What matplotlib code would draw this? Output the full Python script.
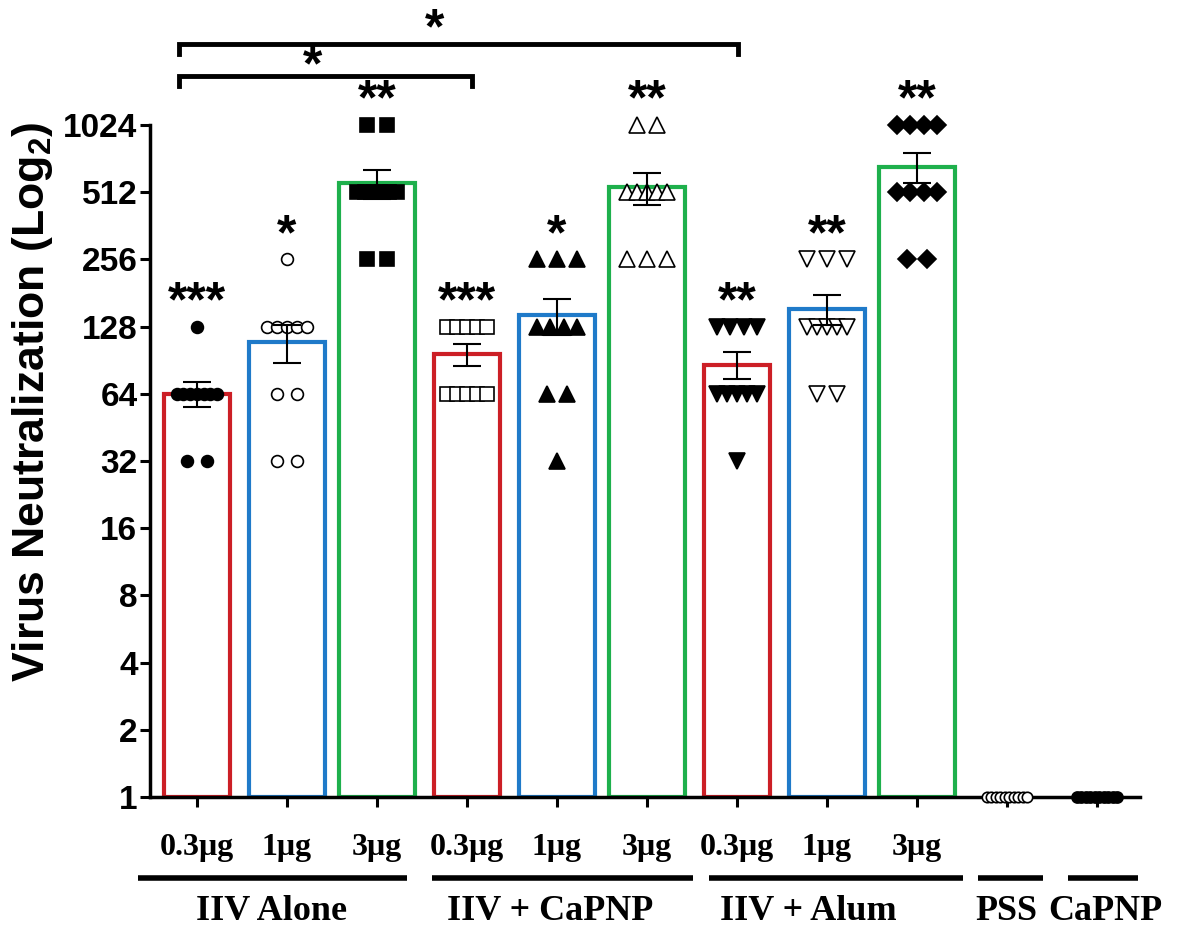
import numpy as np
import matplotlib.pyplot as plt
from matplotlib.transforms import blended_transform_factory

# HAI neutralization titers per mouse
iiv_03 = [128] + [64] * 7 + [32] * 2
iiv_1 = [256] + [128] * 5 + [64] * 2 + [32] * 2
iiv_3 = [1024] * 2 + [512] * 6 + [256] * 2
capnp_03 = [128] * 5 + [64] * 5
capnp_1 = [256] * 3 + [128] * 4 + [64] * 2 + [32]
capnp_3 = [1024] * 2 + [512] * 5 + [256] * 3
alum_03 = [128] * 4 + [64] * 5 + [32]
alum_1 = [256] * 3 + [128] * 5 + [64] * 2
alum_3 = [1024] * 4 + [512] * 4 + [256] * 2
pss = [1] * 10
capnp_only = [1] * 10

series = [iiv_03, iiv_1, iiv_3, capnp_03, capnp_1, capnp_3,
          alum_03, alum_1, alum_3, pss, capnp_only]
dose_labels = ["0.3μg", "1μg", "3μg"] * 3
group_labels = ["IIV Alone", "IIV + CaPNP", "IIV + Alum", "PSS", "CaPNP"]
stars = ["***", "*", "**", "***", "*", "**", "**", "**", "**"]
yticks = [1, 2, 4, 8, 16, 32, 64, 128, 256, 512, 1024]

# (marker, filled, size)
mstyle = [("o", True, 8.5), ("o", False, 8.5), ("s", True, 10),
          ("s", False, 10), ("^", True, 11), ("^", False, 11),
          ("v", True, 11), ("v", False, 11), ("D", True, 9.5),
          ("o", False, 7.5), ("o", True, 8)]
bar_colors = ["#CC1F26", "#1F7AC9", "#1EB04C"] * 3
bar_widths = [0.74, 0.84, 0.84] * 3

plt.rcParams["font.family"] = ["Liberation Sans", "DejaVu Sans"]
plt.rcParams["font.weight"] = "bold"
plt.rcParams["mathtext.fontset"] = "custom"
plt.rcParams["mathtext.rm"] = "Liberation Sans:bold"
plt.rcParams["mathtext.bf"] = "Liberation Sans:bold"


def spread(vals, step=0.22, span=0.45):
    vals = np.asarray(vals, float)
    xs = np.zeros_like(vals)
    for v in np.unique(vals):
        idx = np.where(vals == v)[0]
        k = len(idx)
        if k > 1:
            d = min(step, span / (k - 1))
            xs[idx] = (np.arange(k) - (k - 1) / 2) * d
    return xs


W, H = 1186, 931
fig = plt.figure(figsize=(W / 100, H / 100), dpi=100)
ax = fig.add_axes([150 / W, (H - 797) / H, (1140 - 150) / W, (797 - 5) / H])
ax.set_yscale("log", base=2)
ax.set_ylim(1, 2 ** ((797 - 5) / 67.2))
ax.set_xlim(-0.52, 10.48)

x = np.arange(len(series))
means = [np.mean(s) for s in series]
sems = [np.std(s, ddof=1) / np.sqrt(len(s)) for s in series]

for i in range(9):
    ax.bar(x[i], means[i] - 1, bottom=1, width=bar_widths[i], facecolor="white",
           edgecolor=bar_colors[i], linewidth=3, zorder=2)

for i, s in enumerate(series):
    m, filled, ms = mstyle[i]
    ax.plot(x[i] + spread(s), s, linestyle="none", marker=m, markersize=ms,
            markerfacecolor="black" if filled else "white",
            markeredgecolor="black", markeredgewidth=1.2, zorder=3, clip_on=False)

for i in range(9):
    ax.errorbar(x[i], means[i], yerr=sems[i], color="black", elinewidth=1.5,
                capsize=10, capthick=1.5, zorder=4)
    ax.annotate(stars[i], (x[i], max(series[i])), xytext=(0, 7.5),
                textcoords="offset points", ha="center", va="baseline",
                fontsize=36, fontweight="bold")


# significance brackets
def bracket(x0, x1, h, sx, sh, text):
    y = 2 ** h
    ax.plot([x0, x0, x1, x1], [2 ** (h - 0.15), y, y, 2 ** (h - 0.15)],
            color="black", linewidth=3.5, clip_on=False, solid_joinstyle="miter")
    ax.text(sx, 2 ** sh, text, ha="center", va="baseline",
            fontsize=36, fontweight="bold")


bracket(-0.2, 3.06, 10.73, 1.29, 10.66, "*")
bracket(-0.2, 6.01, 11.2, 2.64, 11.22, "*")

ax.spines["top"].set_visible(False)
ax.spines["right"].set_visible(False)
ax.spines["left"].set_bounds(1, 1024)
ax.spines["left"].set_linewidth(2.5)
ax.spines["bottom"].set_linewidth(2.5)

ax.set_yticks(yticks)
ax.set_yticklabels([str(t) for t in yticks], fontsize=24, fontweight="bold")
ax.minorticks_off()
ax.tick_params(axis="y", length=7, width=2.2, pad=2)
ax.set_xticks(x)
ax.set_xticklabels([])
ax.tick_params(axis="x", length=7, width=2.2)

fig.text(33 / W, (H - 402) / H, "Virus Neutralization (Log$_\\mathbf{2}$)",
         rotation=90, ha="center", va="center", fontsize=32, fontweight="bold")

# category labels below the axis
tr = blended_transform_factory(ax.transData, fig.transFigure)
for i, lab in enumerate(dose_labels):
    ax.text(x[i], (H - 848) / H, lab, transform=tr, ha="center", va="center",
            fontsize=23, fontweight="bold", family="Liberation Serif")

group_spans = [(-0.656, 2.33), (2.61, 5.51), (5.69, 8.51), (8.68, 9.4), (9.68, 10.46)]
group_centers = [0.83, 3.93, 6.8, 9.0, 10.1]
for (a, b), c, lab in zip(group_spans, group_centers, group_labels):
    ax.plot([a, b], [(H - 878) / H] * 2, transform=tr, color="black",
            linewidth=4, clip_on=False, solid_capstyle="butt")
    ax.text(c, (H - 912) / H, lab, transform=tr, ha="center", va="center",
            fontsize=26, fontweight="bold", family="Liberation Serif")

fig.savefig("out.png", dpi=100)
